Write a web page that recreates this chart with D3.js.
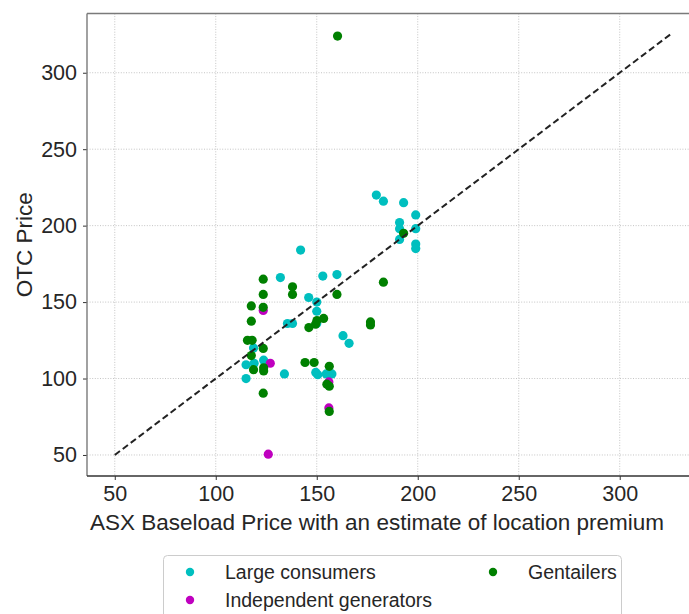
<!DOCTYPE html>
<html>
<head>
<meta charset="utf-8">
<script src="https://cdn.jsdelivr.net/npm/d3@7"></script>
<style>
  body { margin: 0; background: #fff; }
  text { font-family: "Liberation Sans", Arial, sans-serif; fill: #262626; }
</style>
</head>
<body>
<div id="vis"></div>
<script>
const WIDTH = 689,
      HEIGHT = 614;

const margins = { top: 13.5, bottom: 138, left: 87, right: -9 };

// series values: [ASX price, OTC price]
const largeConsumers = [
  [179.5, 220], [183, 216], [193, 215], [199, 207], [191, 202], [191, 198],
  [199, 198], [191, 191], [199, 188], [199, 185], [142, 184], [132, 166],
  [153, 167], [160, 168], [146, 153], [150, 150], [150, 144], [135.5, 136],
  [138, 136], [150, 136], [163, 128], [166, 123], [118.7, 120], [115, 109],
  [119, 110], [123.7, 112], [115, 100], [134, 103], [149.5, 104], [150.5, 102.5],
  [154.7, 103], [157.5, 103]
];
const independentGenerators = [
  [123.5, 144.5], [127, 110], [156, 97.8], [156, 80.8], [126, 50.5]
];
const gentailers = [
  [160.3, 324], [193, 195], [123.5, 165], [138, 160], [183, 163], [123.5, 155],
  [138, 155], [160, 155], [117.6, 147.5], [123.5, 146.6], [117.6, 137.5],
  [153.4, 139.3], [150.1, 137.9], [149.4, 135.5], [146.1, 133.3], [176.6, 137],
  [176.6, 135], [115.7, 125], [118, 125], [123.5, 119.7], [117.6, 115],
  [118.7, 105.8], [123.7, 107], [123.7, 105], [144.2, 110.5], [148.7, 110.5],
  [156.2, 108], [155, 96.3], [156.2, 95], [123.5, 90.4], [156.2, 78.5]
];
const diagonal = [[50, 50], [325, 325]];
const ticks = [50, 100, 150, 200, 250, 300];
const seriesNames = ["Large consumers", "Independent generators", "Gentailers"];
const seriesColors = ["#00bfbf", "#bf00bf", "#008000"];

const SVG = d3.select("#vis").append("svg")
  .attr("width", WIDTH).attr("height", HEIGHT);

const x0 = margins.left, x1 = WIDTH - margins.right;
const y0 = HEIGHT - margins.bottom, y1 = margins.top;

const escalaX = d3.scaleLinear().domain([36.25, 338.75]).range([x0, x1]);
const escalaY = d3.scaleLinear().domain([36.25, 338.75]).range([y0, y1]);

// grid
const grid = SVG.append("g");
grid.selectAll("line.gx").data(ticks).join("line")
  .attr("x1", d => escalaX(d)).attr("x2", d => escalaX(d))
  .attr("y1", y1).attr("y2", y0);
grid.selectAll("line.gy").data(ticks).join("line")
  .attr("x1", x0).attr("x2", x1)
  .attr("y1", d => escalaY(d)).attr("y2", d => escalaY(d));
grid.selectAll("line")
  .attr("stroke", "#c4c4c4").attr("stroke-width", 1)
  .attr("stroke-dasharray", "1,1.6");

// axes
const ejeX = SVG.append("g")
  .attr("transform", `translate(0 ${y0})`)
  .call(d3.axisBottom(escalaX).tickValues(ticks).tickSize(4).tickPadding(6));
const ejeY = SVG.append("g")
  .attr("transform", `translate(${x0} 0)`)
  .call(d3.axisLeft(escalaY).tickValues(ticks).tickSize(4).tickPadding(6));
SVG.selectAll(".domain").remove();
SVG.selectAll(".tick line").attr("stroke", "#333");
SVG.selectAll(".tick text").style("font-size", "21.5px").attr("fill", "#262626");

// spines
SVG.append("line").attr("x1", x0).attr("x2", x0).attr("y1", y1).attr("y2", y0)
  .attr("stroke", "#7a7a7a").attr("stroke-width", 1.4);
SVG.append("line").attr("x1", x0).attr("x2", x1).attr("y1", y1).attr("y2", y1)
  .attr("stroke", "#7a7a7a").attr("stroke-width", 1.4);
SVG.append("line").attr("x1", x0).attr("x2", x1).attr("y1", y0).attr("y2", y0)
  .attr("stroke", "#333").attr("stroke-width", 1.4);

// points: cyan first, magenta, green on top
const datos = [largeConsumers, independentGenerators, gentailers];
datos.forEach((serie, i) => {
  SVG.append("g").selectAll("circle").data(serie).join("circle")
    .attr("cx", d => escalaX(d[0]))
    .attr("cy", d => escalaY(d[1]))
    .attr("r", 4.6)
    .attr("fill", seriesColors[i]);
});

// 1:1 line
SVG.append("path")
  .datum(diagonal)
  .attr("d", d3.line().x(d => escalaX(d[0])).y(d => escalaY(d[1])))
  .attr("fill", "none").attr("stroke", "#222").attr("stroke-width", 2)
  .attr("stroke-dasharray", "6.5,3.5");

// labels
SVG.append("text")
  .attr("x", 377).attr("y", 530)
  .attr("text-anchor", "middle").style("font-size", "22.5px")
  .text("ASX Baseload Price with an estimate of location premium");
SVG.append("text")
  .attr("transform", `translate(32 ${(y0 + y1) / 2}) rotate(-90)`)
  .attr("text-anchor", "middle").style("font-size", "22.5px")
  .text("OTC Price");

// legend
const leyenda = SVG.append("g");
leyenda.append("rect")
  .attr("x", 163.5).attr("y", 555.5).attr("width", 458).attr("height", 80)
  .attr("rx", 4).attr("fill", "#fff").attr("stroke", "#cccccc");
const posLeyenda = [[190, 572], [190, 600], [493, 572]];
seriesNames.forEach((name, i) => {
  leyenda.append("circle")
    .attr("cx", posLeyenda[i][0]).attr("cy", posLeyenda[i][1])
    .attr("r", 4.2).attr("fill", seriesColors[i]);
  leyenda.append("text")
    .attr("x", posLeyenda[i][0] + 35).attr("y", posLeyenda[i][1] + 7)
    .style("font-size", "19.5px")
    .text(name);
});
</script>
</body>
</html>
